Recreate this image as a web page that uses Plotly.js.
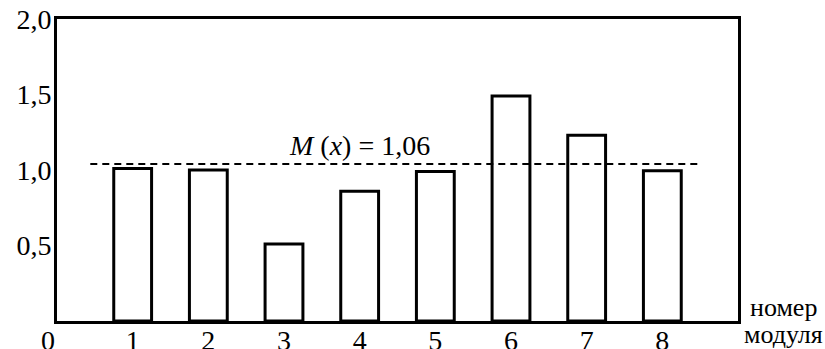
<!DOCTYPE html>
<html>
<head>
<meta charset="utf-8">
<script src="https://cdn.plot.ly/plotly-3.0.1.min.js"></script>
<style>html,body{margin:0;padding:0;background:#fff;}#chart{width:825px;height:349px;}</style>
</head>
<body>
<div id="chart"></div>
<script>
// Data
const modules = [1, 2, 3, 4, 5, 6, 7, 8];
const values = [1.01, 1.00, 0.51, 0.86, 0.99, 1.49, 1.23, 0.995];
const meanLineX = [0.44, 8.48];
const meanLineY = [1.04, 1.04];
const meanLabel = "<i>M</i> (<i>x</i>) = 1,06";
const yTickVals = [0.5, 1.0, 1.5, 2.0];
const yTickText = ["0,5", "1,0", "1,5", "2,0"];
const xTickText = ["1", "2", "3", "4", "5", "6", "7", "8"];
const xAxisLabel = ["номер", "модуля"];

const font = "Liberation Serif, Times New Roman, serif";

const traces = [
  {
    type: "bar",
    x: modules,
    y: values,
    width: 0.5,
    marker: { color: "#ffffff", line: { color: "#000000", width: 3 } },
    hoverinfo: "skip"
  },
  {
    type: "scatter",
    mode: "lines",
    xaxis: "x2",
    x: meanLineX,
    y: meanLineY,
    line: { color: "#000000", width: 2, dash: "7px,5px" },
    hoverinfo: "skip"
  }
];

const layout = {
  width: 825,
  height: 349,
  margin: { l: 57, r: 87, t: 19, b: 28, pad: 0 },
  paper_bgcolor: "#ffffff",
  plot_bgcolor: "#ffffff",
  showlegend: false,
  font: { family: font, size: 28, color: "#000000" },
  xaxis: {
    range: [0, 9],
    tickmode: "array",
    tickvals: modules,
    showticklabels: false,
    ticks: "",
    showgrid: false,
    zeroline: false,
    showline: true,
    mirror: true,
    linecolor: "#000000",
    linewidth: 3,
    fixedrange: true
  },
  xaxis2: {
    overlaying: "x",
    anchor: "free",
    position: 0,
    side: "bottom",
    range: [0, 9],
    tickmode: "array",
    tickvals: modules,
    ticktext: xTickText,
    ticks: "",
    showgrid: false,
    zeroline: false,
    showline: false,
    tickfont: { family: font, size: 28, color: "#000000" },
    fixedrange: true
  },
  yaxis: {
    range: [0, 2],
    tickmode: "array",
    tickvals: yTickVals,
    ticktext: yTickText,
    ticks: "",
    showgrid: false,
    zeroline: false,
    showline: true,
    mirror: true,
    linecolor: "#000000",
    linewidth: 3,
    ticklabelstandoff: -3,
    tickfont: { family: font, size: 28, color: "#000000" },
    fixedrange: true
  },
  annotations: [
    {
      text: "0", x: 0, y: 0, xref: "x", yref: "y",
      xanchor: "center", yanchor: "top", xshift: -9, yshift: -2,
      showarrow: false, font: { family: font, size: 28, color: "#000000" }
    },
    {
      text: meanLabel, x: 4.0, y: 1.165, xref: "x", yref: "y",
      xanchor: "center", yanchor: "middle",
      showarrow: false, font: { family: font, size: 28, color: "#000000" }
    },
    {
      text: xAxisLabel[0], x: 1.067, y: 0.045, xref: "paper", yref: "paper",
      xanchor: "center", yanchor: "middle",
      showarrow: false, font: { family: font, size: 26, color: "#000000" }
    },
    {
      text: xAxisLabel[1], x: 1.067, y: -0.045, xref: "paper", yref: "paper",
      xanchor: "center", yanchor: "middle",
      showarrow: false, font: { family: font, size: 26, color: "#000000" }
    }
  ]
};

Plotly.newPlot("chart", traces, layout, { displayModeBar: false, staticPlot: true });
</script>
</body>
</html>
